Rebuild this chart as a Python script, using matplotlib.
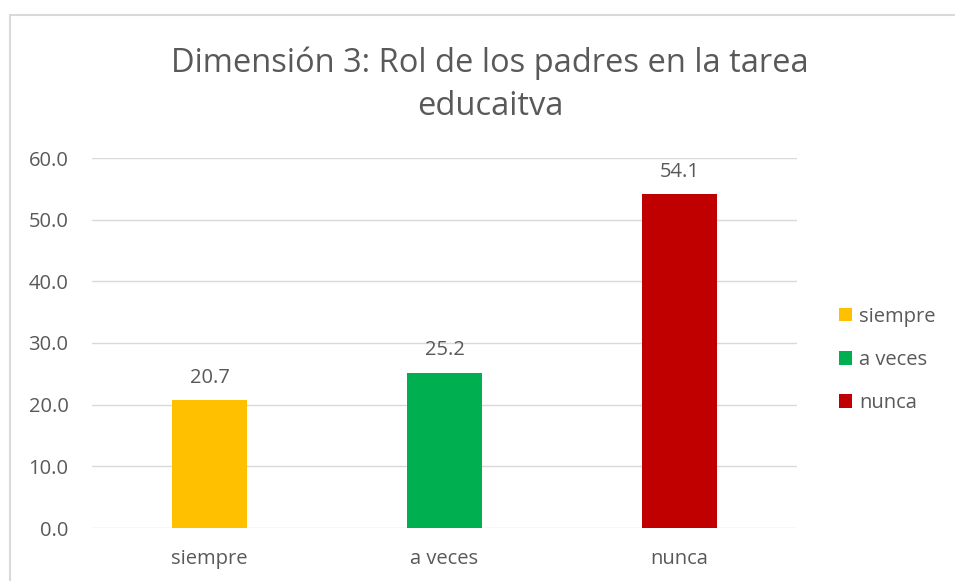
import matplotlib
matplotlib.use("Agg")
import matplotlib.pyplot as plt
from matplotlib.patches import Rectangle

# datos del gráfico
categorias = ["siempre", "a veces", "nunca"]
valores = [20.7, 25.2, 54.1]
colores = ["#FFC000", "#00B050", "#C00000"]
titulo = "Dimensión 3: Rol de los padres en la tarea\neducaitva"

plt.rcParams["font.family"] = ["Open Sans", "DejaVu Sans"]
gris = "#595959"

fig = plt.figure(figsize=(9.55, 5.81), dpi=100)
ax = fig.add_axes([92/955, 1-528/581, 705/955, 370/581])

x = range(len(categorias))
barras = ax.bar(x, valores, width=0.315, color=colores, label=categorias, zorder=3)

for xi, v in zip(x, valores):
    ax.text(xi, v + 2.0, f"{v:.1f}", ha="center", va="bottom", fontsize=14.5, color=gris)

ax.set_xlim(-0.5, 2.5)
ax.set_ylim(0, 60)
ax.set_yticks(range(0, 61, 10))
ax.set_yticklabels([f"{t:.1f}" for t in range(0, 61, 10)])
ax.set_xticks(list(x))
ax.set_xticklabels(categorias)
ax.tick_params(axis="both", length=0, labelsize=14.5, labelcolor=gris)
ax.tick_params(axis="y", pad=17)
ax.tick_params(axis="x", pad=15)
ax.grid(axis="y", color="#d9d9d9", linewidth=1, zorder=0)
for s in ax.spines.values():
    s.set_visible(False)

fig.text(490/955, 1-85/581, titulo, ha="center", va="center", fontsize=23.5,
         color=gris, linespacing=1.4)

leg = fig.legend(handles=barras, labels=categorias, loc="center left",
                 bbox_to_anchor=(821/955, 1-360/581), frameon=False,
                 fontsize=14.5, labelcolor=gris, handlelength=0.65, handleheight=0.65,
                 handletextpad=0.35, labelspacing=1.15)

# borde del área del gráfico
fig.patches.append(Rectangle((10/955, -0.1), 1.2, 1.1 - 15/581,
                             transform=fig.transFigure, fill=False,
                             edgecolor="#d9d9d9", linewidth=1.5))

fig.savefig("out.png", dpi=100)
